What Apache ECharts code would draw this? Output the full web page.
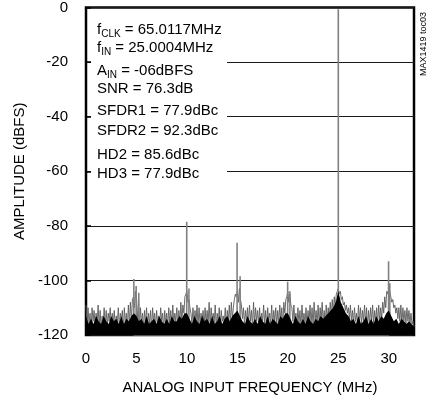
<!DOCTYPE html>
<html>
<head>
<meta charset="utf-8">
<script src="https://cdn.jsdelivr.net/npm/echarts@6/dist/echarts.min.js"></script>
<style>html,body{margin:0;padding:0;background:#fff}#c{width:433px;height:400px}</style>
</head>
<body>
<div id="c"></div>
<script>
// ---- data ----
const xTicks = [0, 5, 10, 15, 20, 25, 30];
const yTicks = [0, -20, -40, -60, -80, -100, -120];
const noiseStep = 0.1; // MHz per noise value
const noiseVals = [
 -109,-117,-110,-116,-112,-118,-110,-115,-111,-117,
 -112,-116,-109,-117,-111,-118,-113,-116,-110,-117,
 -111,-117,-112,-115,-110,-118,-112,-116,-111,-117,
 -113,-116,-110,-117,-112,-115,-111,-118,-110,-116,
 -112,-117,-109,-116,-108,-115,-107,-106,-110,-104,
 -108,-115,-106,-117,-110,-116,-112,-117,-111,-116,
 -110,-117,-112,-116,-111,-118,-110,-115,-112,-117,
 -111,-116,-113,-117,-110,-115,-112,-118,-111,-116,
 -112,-117,-110,-116,-111,-117,-109,-116,-112,-115,
 -110,-117,-111,-116,-108,-115,-109,-112,-106,-105,
 -104,-108,-107,-110,-112,-116,-110,-117,-111,-116,
 -109,-117,-110,-116,-112,-115,-111,-117,-110,-116,
 -111,-116,-108,-117,-110,-115,-112,-116,-109,-117,
 -112,-116,-110,-117,-111,-115,-113,-116,-110,-117,
 -111,-115,-109,-116,-108,-114,-110,-107,-105,-106,
 -104,-108,-103,-107,-109,-114,-110,-116,-111,-115,
 -110,-116,-109,-115,-111,-117,-108,-116,-110,-115,
 -111,-116,-110,-117,-112,-115,-109,-116,-111,-117,
 -110,-115,-112,-116,-109,-117,-111,-115,-110,-116,
 -111,-116,-109,-115,-110,-117,-108,-112,-107,-106,
 -104,-108,-105,-109,-110,-115,-109,-116,-112,-117,
 -110,-116,-111,-117,-109,-115,-112,-116,-110,-117,
 -111,-115,-109,-116,-110,-117,-108,-115,-111,-116,
 -109,-116,-110,-115,-108,-116,-111,-117,-109,-115,
 -110,-114,-108,-113,-107,-112,-106,-110,-105,-104,
 -103,-105,-104,-107,-106,-109,-108,-111,-109,-112,
 -110,-114,-109,-115,-111,-116,-110,-115,-112,-116,
 -109,-115,-110,-116,-111,-115,-109,-116,-110,-117,
 -111,-116,-110,-115,-109,-116,-111,-115,-110,-116,
 -109,-115,-110,-114,-108,-112,-106,-110,-104,-105,
 -103,-104,-106,-108,-107,-110,-109,-112,-110,-114,
 -110,-115,-109,-116,-110,-115,-111,-116,-110,-115,
 -111,-116,-112,-116,-115,-117
];
const floorStep = 0.25; // MHz per floor value (dense black noise base)
const floorVals = [
 -113,-116,-114,-116, -113,-115,-116,-113, -115,-116,-113,-115, -114,-116,-113,-116,
 -114,-115,-113,-112, -113,-115,-114,-116, -113,-116,-115,-114, -116,-113,-115,-116,
 -114,-116,-113,-115, -115,-113,-114,-112, -112,-114,-116,-113, -115,-116,-113,-115,
 -114,-116,-113,-116, -115,-113,-116,-114, -113,-115,-113,-112, -111,-113,-115,-116,
 -113,-115,-116,-114, -116,-113,-115,-116, -113,-116,-114,-115, -116,-113,-114,-112,
 -112,-114,-116,-113, -115,-116,-114,-116, -113,-115,-116,-114, -115,-113,-114,-113,
 -112,-111,-110,-108, -104,-108,-110,-112, -113,-115,-114,-116, -113,-116,-115,-113,
 -116,-114,-116,-113, -115,-113,-114,-112, -111,-113,-115,-114, -116,-114,-115,-116,
 -115,-116,-117
];
const spurFreq = [4.74, 4.97, 5.23, 9.98, 10.2, 14.97, 15.27, 19.98, 20.2, 25.0, 29.98, 30.1];
const spurAmp  = [-99.5, -102, -104.5, -78.5, -103, -86.2, -98.5, -100.5, -104, -0.6, -93, -101];
const infoLines = [
 'f{sub|CLK} = 65.0117MHz',
 'f{sub|IN} = 25.0004MHz',
 'A{sub|IN} = -06dBFS',
 'SNR = 76.3dB',
 'SFDR1 = 77.9dBc',
 'SFDR2 = 92.3dBc',
 'HD2 = 85.6dBc',
 'HD3 = 77.9dBc'
];

// ---- build series data ----
const noiseData = noiseVals.map((v, i) => [+(i * noiseStep).toFixed(2), v]);
const floorData = floorVals.map((v, i) => [+(i * floorStep).toFixed(2), v]);
const spurData = [];
spurFreq.forEach((f, i) => { spurData.push([f, -120], [f, spurAmp[i]], [f, -120]); });

const FONT = "'Liberation Sans',Arial,sans-serif";
const FS = 15;
const lineY = [30, 48, 71, 89, 111, 131, 154.5, 174];

const chart = echarts.init(document.getElementById('c'), null, {renderer: 'canvas'});
chart.setOption({
  animation: false,
  backgroundColor: '#fff',
  grid: {left: 86, right: 19, top: 7, bottom: 65, show: true, borderColor: '#000', borderWidth: 2.5, backgroundColor: 'transparent'},
  xAxis: {
    type: 'value', min: 0, max: 32.5, interval: 5,
    name: 'ANALOG INPUT FREQUENCY (MHz)', nameLocation: 'middle', nameGap: 45,
    nameTextStyle: {fontFamily: FONT, fontSize: FS, color: '#000'},
    axisLine: {show: false}, axisTick: {show: false}, splitLine: {show: false},
    axisLabel: {margin: 16, fontFamily: FONT, fontSize: FS, color: '#000',
      formatter: v => xTicks.indexOf(v) >= 0 ? String(v) : ''}
  },
  yAxis: {
    type: 'value', min: -120, max: 0, interval: 20,
    name: 'AMPLITUDE (dBFS)', nameLocation: 'middle', nameGap: 55,
    nameTextStyle: {fontFamily: FONT, fontSize: FS, color: '#000'},
    axisLine: {show: false},
    axisTick: {show: true, inside: true, length: 5, lineStyle: {color: '#000', width: 1.5}},
    splitLine: {show: true, lineStyle: {color: '#1a1a1a', width: 1}},
    axisLabel: {margin: 18, fontFamily: FONT, fontSize: FS, color: '#000',
      formatter: v => yTicks.indexOf(v) >= 0 ? String(v) : ''}
  },
  series: [
    {type: 'line', data: noiseData, showSymbol: false, z: 2,
     lineStyle: {color: '#5a5a5a', width: 0.9}},
    {type: 'line', data: spurData, showSymbol: false, z: 3,
     lineStyle: {color: '#808080', width: 1.6}},
    {type: 'line', data: floorData, showSymbol: false, z: 4,
     lineStyle: {width: 0}, areaStyle: {color: '#000', opacity: 1, origin: 'start'}}
  ],
  graphic: [
    {type: 'rect', left: 91, top: 9, shape: {width: 136, height: 177}, style: {fill: '#fff'}, z: 50},
    ...infoLines.map((t, i) => ({
      type: 'text', x: 97, y: lineY[i], z: 51,
      style: {text: t, fontFamily: FONT, fontSize: FS, fill: '#000', textVerticalAlign: 'middle',
        rich: {sub: {fontSize: 10, fontFamily: FONT, fill: '#000', padding: [9, 0, 0, 0]}}}
    })),
    {type: 'text', x: 424, y: 44, rotation: Math.PI / 2, z: 51,
     style: {text: 'MAX1419 toc03', fontFamily: FONT, fontSize: 9, fill: '#000', textAlign: 'center', textVerticalAlign: 'middle'}}
  ]
});
</script>
</body>
</html>
